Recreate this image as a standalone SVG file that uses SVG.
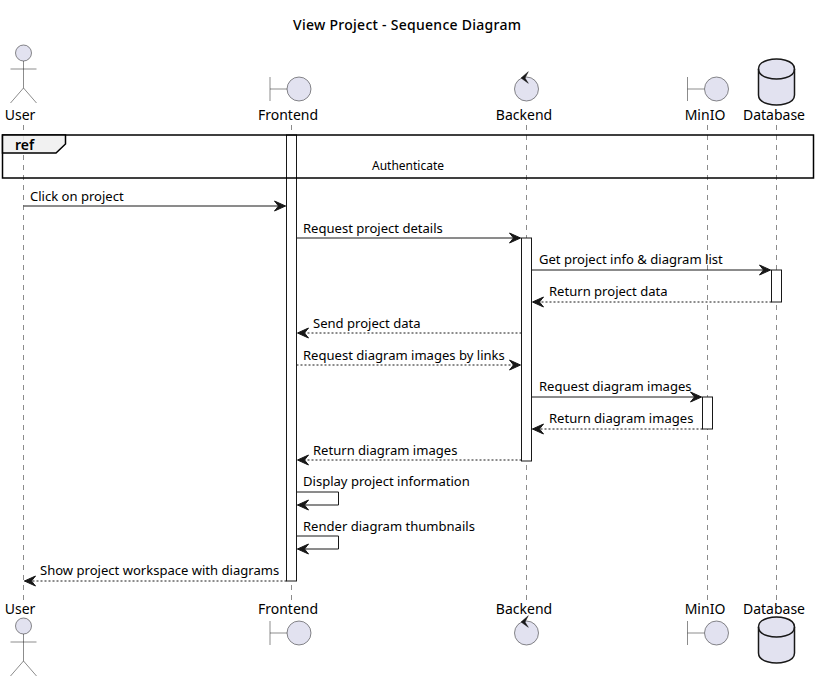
<svg xmlns="http://www.w3.org/2000/svg" width="818" height="682" viewBox="0 0 818 682">
<style>
text{font-family:"Noto Sans",sans-serif;fill:#000}
.t{font-size:14px;font-weight:500}
.r{font-size:14px;font-weight:600}
.p{font-size:14px}
.m{font-size:13.05px}
.s{font-size:12px}
.life{stroke:#181818;stroke-width:.5;stroke-dasharray:5,5;fill:none}
.act{fill:#fff;stroke:#181818;stroke-width:1}
.msg{stroke:#181818;stroke-width:1;fill:none}
.dash{stroke-dasharray:2,2}
.head{fill:#181818;stroke:#181818;stroke-width:1}
.ic{fill:#E2E2F0;stroke:#181818;stroke-width:.5}
.icl{fill:none;stroke:#181818;stroke-width:.5}
.db{fill:#E2E2F0;stroke:#181818;stroke-width:1.5}
</style>
<defs>
<marker id="r" markerUnits="userSpaceOnUse" markerWidth="14" markerHeight="12" refX="12" refY="6" orient="auto"><path d="M1,1 L12,6 L1,11 L5,6 Z" class="head"/></marker>
<g id="actorIcon"><circle cx="23.5" cy="0" r="8" class="ic"/><path d="M23.5,8 V35 M10.5,16 H36.5 M23.5,35 L10.5,50 M23.5,35 L36.5,50" class="icl"/></g>
<g id="boundaryIcon"><path d="M0,0 V24 M0,12 H17" class="icl"/><circle cx="29" cy="12" r="12" class="ic"/></g>
<g id="controlIcon"><circle cx="0" cy="0" r="12" class="ic"/><path d="M-5.5,-11 L1.8,-17.3 L-1.5,-11 L1.8,-5.7 Z" fill="#181818" stroke="#181818" stroke-width=".5"/></g>
<g id="dbIcon"><path d="M0,10 C0,0 18,0 18,0 C18,0 36,0 36,10 V36 C36,46 18,46 18,46 C18,46 0,46 0,36 Z" class="db"/><path d="M0,10 C0,20 18,20 18,20 C18,20 36,20 36,10" fill="none" stroke="#181818" stroke-width="1.5"/></g>
</defs>
<text class="t" x="293" y="30" textLength="228" lengthAdjust="spacing">View Project - Sequence Diagram</text>
<g id="lifelines">
<path class="life" d="M23.5,125 V600"/><path class="life" d="M291.5,125 V600"/><path class="life" d="M526.5,125 V600"/><path class="life" d="M707.5,125 V600"/><path class="life" d="M776.5,125 V600"/>
</g>
<g id="activations">
<rect class="act" x="286.5" y="135" width="10" height="446"/>
<rect class="act" x="521.5" y="238" width="10" height="223"/>
<rect class="act" x="771.5" y="270" width="10" height="32"/>
<rect class="act" x="702.5" y="397" width="10" height="32"/>
</g>
<g id="ref">
<rect x="2.5" y="135" width="811" height="43" fill="none" stroke="#000" stroke-width="1.5"/>
<path d="M2.5,135 H65.5 V144 L56,153 H2.5 Z" fill="#EEEEEE" fill-opacity=".85" stroke="#000" stroke-width="1.5"/>
<text class="r" x="15" y="150">ref</text>
<text class="s" x="372" y="170">Authenticate</text>
</g>
<g id="connectors">
<line class="msg" x1="23.5" y1="206" x2="285.5" y2="206" marker-end="url(#r)"/>
<line class="msg" x1="296.5" y1="238" x2="520.5" y2="238" marker-end="url(#r)"/>
<line class="msg" x1="531.5" y1="270" x2="770.5" y2="270" marker-end="url(#r)"/>
<line class="msg dash" x1="771.5" y1="302" x2="532.5" y2="302" marker-end="url(#r)"/>
<line class="msg dash" x1="521.5" y1="333" x2="297.5" y2="333" marker-end="url(#r)"/>
<line class="msg dash" x1="296.5" y1="365" x2="520.5" y2="365" marker-end="url(#r)"/>
<line class="msg" x1="531.5" y1="397" x2="701.5" y2="397" marker-end="url(#r)"/>
<line class="msg dash" x1="702.5" y1="429" x2="532.5" y2="429" marker-end="url(#r)"/>
<line class="msg dash" x1="521.5" y1="460" x2="297.5" y2="460" marker-end="url(#r)"/>
<path class="msg" d="M296.5,492 H338.5 V505 H297.5" marker-end="url(#r)"/>
<path class="msg" d="M296.5,536 H338.5 V549 H297.5" marker-end="url(#r)"/>
<line class="msg dash" x1="286.5" y1="581" x2="24.5" y2="581" marker-end="url(#r)"/>
</g>
<g id="labels">
<text class="m" x="30" y="201">Click on project</text>
<text class="m" x="303" y="233">Request project details</text>
<text class="m" x="539" y="264">Get project info &amp; diagram list</text>
<text class="m" x="549" y="296">Return project data</text>
<text class="m" x="313" y="328">Send project data</text>
<text class="m" x="303" y="360">Request diagram images by links</text>
<text class="m" x="539" y="391">Request diagram images</text>
<text class="m" x="549" y="423">Return diagram images</text>
<text class="m" x="313" y="455">Return diagram images</text>
<text class="m" x="303" y="486">Display project information</text>
<text class="m" x="303" y="531">Render diagram thumbnails</text>
<text class="m" x="40" y="575">Show project workspace with diagrams</text>
</g>
<g id="node-user">
<use href="#actorIcon" y="53"/><text class="p" x="20" y="120" text-anchor="middle">User</text>
<text class="p" x="20" y="614" text-anchor="middle">User</text><use href="#actorIcon" y="626"/>
</g>
<g id="node-frontend">
<use href="#boundaryIcon" x="270" y="77"/><text class="p" x="288" y="120" text-anchor="middle">Frontend</text>
<text class="p" x="288" y="614" text-anchor="middle">Frontend</text><use href="#boundaryIcon" x="270" y="621"/>
</g>
<g id="node-backend">
<use href="#controlIcon" x="526.5" y="89"/><text class="p" x="524" y="120" text-anchor="middle">Backend</text>
<text class="p" x="524" y="614" text-anchor="middle">Backend</text><use href="#controlIcon" x="526.5" y="633"/>
</g>
<g id="node-minio">
<use href="#boundaryIcon" x="687.5" y="77"/><text class="p" x="705" y="120" text-anchor="middle">MinIO</text>
<text class="p" x="705" y="614" text-anchor="middle">MinIO</text><use href="#boundaryIcon" x="687.5" y="621"/>
</g>
<g id="node-database">
<use href="#dbIcon" x="758.5" y="59"/><text class="p" x="774" y="120" text-anchor="middle">Database</text>
<text class="p" x="774" y="614" text-anchor="middle">Database</text><use href="#dbIcon" x="758.5" y="617"/>
</g>
</svg>
